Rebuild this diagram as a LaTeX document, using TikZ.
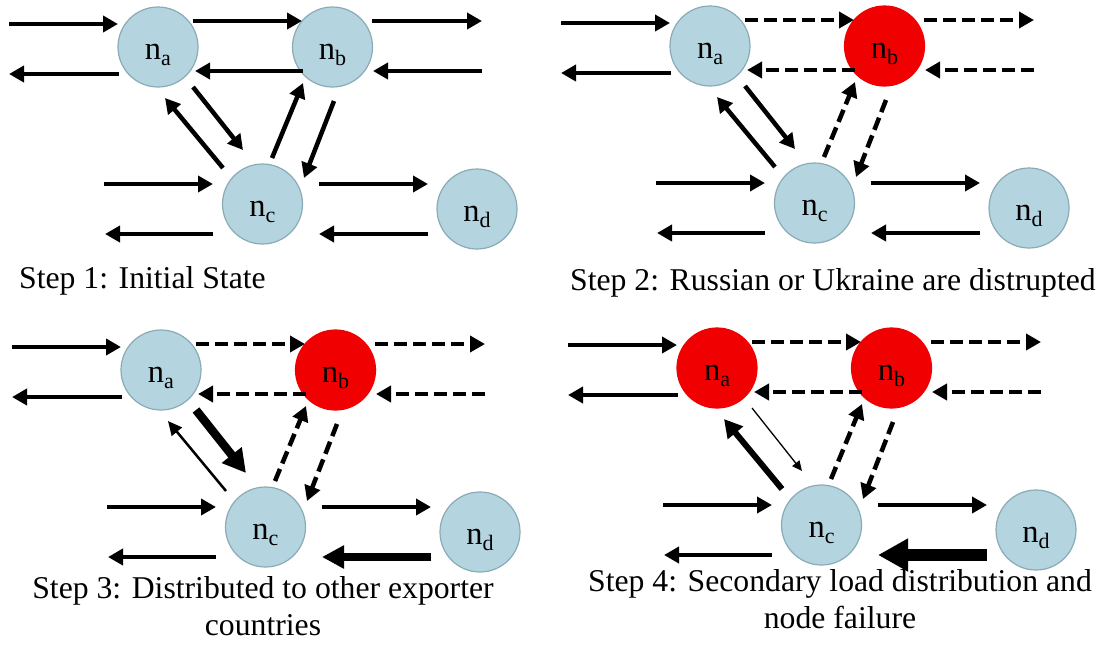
\documentclass[tikz,border=0pt]{standalone}
\usepackage{fontspec}
\setmainfont{Liberation Serif}
\newfontfamily\capfont{Liberation Serif}
\usetikzlibrary{arrows.meta}
\definecolor{nodeblue}{HTML}{B4D5DF}
\definecolor{nodeedge}{HTML}{8AABB5}
\definecolor{failred}{HTML}{F00000}
\newcommand\nsub[1]{n\raisebox{-6pt}{\fontsize{22}{22}\selectfont #1}}
\tikzset{
  netnode/.style={circle, minimum size=80pt, inner sep=0pt, line width=1.2pt,
    text height=30.6pt, text depth=6pt, font=\capfont\fontsize{32.5}{36}\selectfont},
  okn/.style={netnode, fill=nodeblue, draw=nodeedge},
  badn/.style={netnode, fill=failred, draw=failred},
  flow/.style={line width=4.5pt, -{Triangle[length=15pt,width=16pt]}},
  cut/.style={flow, dash pattern=on 13pt off 6pt},
  heavy/.style={line width=8.5pt, -{Triangle[length=23pt,width=24pt]}},
  light/.style={line width=2.5pt, -{Triangle[length=14pt,width=13pt]}},
  heavyin/.style={line width=8pt, -{Triangle[length=22pt,width=22pt]}},
  hair/.style={line width=1.3pt, -{Triangle[length=10pt,width=9pt]}},
  medium/.style={line width=6pt, -{Triangle[length=18pt,width=19pt]}},
  huge/.style={line width=12pt, -{Triangle[length=30pt,width=31pt]}},
  plain/.style={s1/.style={flow},s2/.style={flow},s3/.style={flow},s4/.style={flow},
    s5/.style={flow},s6/.style={flow},s7/.style={flow},s8/.style={flow},s9/.style={flow},
    s10/.style={flow},s11/.style={flow},s12/.style={flow},s13/.style={flow},s14/.style={flow}},
  cutb/.style={s3/.style={cut},s4/.style={cut},s5/.style={cut},s6/.style={cut},
    s9/.style={cut},s10/.style={cut}},
  caption/.style={font=\capfont\fontsize{31.7}{36.6}\selectfont, inner sep=0pt},
}
% #1 id, #2 ox, #3 oy, #4 style of n_a, #5 style of n_b, #6 arrow styles
\newcommand\panel[6]{%
\begin{scope}[shift={(#2,#3)}, plain, #6]
  \node[#4] (p#1a) at (158,47) {\nsub{a}};
  \node[#5] (p#1b) at (332.5,47) {\nsub{b}};
  \node[okn] (p#1c) at (262.5,204) {\nsub{c}};
  \node[okn] (p#1d) at (477,209) {\nsub{d}};
  \draw[s1] ([shift={(-149,-23)}]p#1a.center) -- ([shift={(-40,-23)}]p#1a.center);
  \draw[s2] ([shift={(-39,27)}]p#1a.center) -- ([shift={(-149,27)}]p#1a.center);
  \draw[s3] ([shift={(35,-26)}]p#1a.center) -- ([shift={(-30.5,-26)}]p#1b.center);
  \draw[s4] ([shift={(-29.5,24)}]p#1b.center) -- ([shift={(37,24)}]p#1a.center);
  \draw[s5] ([shift={(39.5,-26)}]p#1b.center) -- ([shift={(149.5,-26)}]p#1b.center);
  \draw[s6] ([shift={(149.5,24)}]p#1b.center) -- ([shift={(40.5,24)}]p#1b.center);
  \draw[s7] ([shift={(35,40)}]p#1a.center) -- ([shift={(-19.5,-54)}]p#1c.center);
  \draw[s8] ([shift={(-39.5,-36)}]p#1c.center) -- ([shift={(7,51)}]p#1a.center);
  \draw[s9] ([shift={(9.5,-46)}]p#1c.center) -- ([shift={(-29.5,36)}]p#1b.center);
  \draw[s10] ([shift={(1.5,54)}]p#1b.center) -- ([shift={(41.5,-26)}]p#1c.center);
  \draw[s11] ([shift={(-158.5,-20)}]p#1c.center) -- ([shift={(-49.5,-20)}]p#1c.center);
  \draw[s12] ([shift={(-49.5,30)}]p#1c.center) -- ([shift={(-157.5,30)}]p#1c.center);
  \draw[s13] ([shift={(56.5,-20)}]p#1c.center) -- ([shift={(-49,-25)}]p#1d.center);
  \draw[s14] ([shift={(-49,25)}]p#1d.center) -- ([shift={(56.5,30)}]p#1c.center);
\end{scope}}
\begin{document}
\begin{tikzpicture}[x=1pt, y=-1pt]
  \fill[white] (0,0) rectangle (1102,646);
  \useasboundingbox (0,0) rectangle (1102,646);
  \panel{1}{0}{0}{okn}{okn}{}
  \panel{2}{552}{-1}{okn}{badn}{cutb}
  \panel{3}{3}{323}{okn}{badn}{cutb, s7/.style={heavy}, s8/.style={light}, s14/.style={heavyin}}
  \panel{4}{559}{321}{badn}{badn}{cutb, s7/.style={hair}, s8/.style={medium}, s14/.style={huge}}
  \node[caption, anchor=base west] (cap1) at (19,288) {Step 1: Initial State};
  \node[caption, anchor=base west] (cap2) at (570,290) {Step 2: Russian or Ukraine are distrupted};
  \node[caption, anchor=base] (cap3a) at (263,598) {Step 3: Distributed to other exporter};
  \node[caption, anchor=base] (cap3b) at (263,635) {countries};
  \node[caption, anchor=base] (cap4a) at (840,591.7) {Step 4: Secondary load distribution and};
  \node[caption, anchor=base] (cap4b) at (840,628.3) {node failure};
\end{tikzpicture}
\end{document}
